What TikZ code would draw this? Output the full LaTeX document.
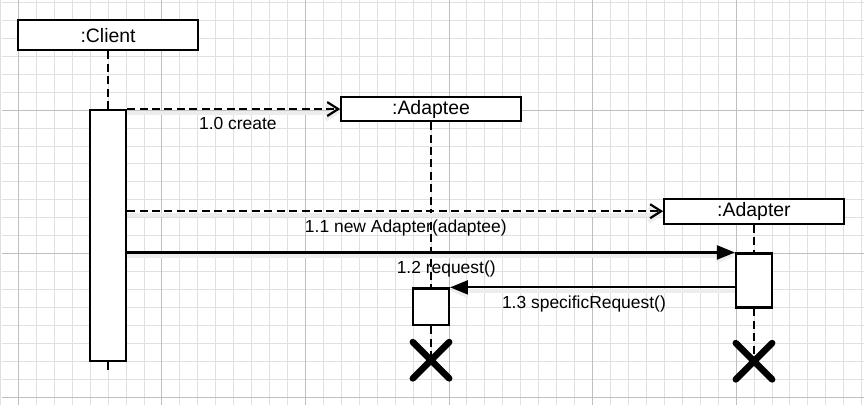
\documentclass[tikz,border=0pt]{standalone}
\usepackage{fontspec}
\setmainfont{Liberation Sans}
\usetikzlibrary{arrows.meta}
\usetikzlibrary{shapes.misc}

\begin{document}
\begin{tikzpicture}[x=1pt, y=-1pt, line width=2.2pt,
  obj/.style = {draw, fill=white, minimum width=180pt, minimum height=25pt, inner sep=0pt, font=\fontsize{19.5}{22}\selectfont},
  act/.style = {draw, fill=white, minimum width=36pt, inner sep=0pt},
  life/.style = {dash pattern=on 8pt off 4.5pt},
  msg/.style = {font=\fontsize{17.5}{20}\selectfont, text height=12.5pt, text depth=4pt, below=4pt},
  kill/.style = {cross out, draw, line width=6.5pt, line cap=round, minimum size=30pt, inner sep=0pt},
  shade/.style = {preaction={draw=black!7, line width=4pt, transform canvas={yshift=-3.5pt}}}]
            % paper grid
            \fill[white] (0,0) rectangle (864,406);
            \foreach \x in {-2,16,...,862} \draw[black!12, line width=0.8pt] (\x,0) -- (\x,406);
            \foreach \y in {2,20,...,398} \draw[black!12, line width=0.8pt] (0,\y) -- (864,\y);
            \foreach \x in {16,160,...,736} \draw[black!25, line width=0.8pt] (\x,0) -- (\x,406);
            \foreach \y in {110,254,398} \draw[black!25, line width=0.8pt] (0,\y) -- (864,\y);
            \useasboundingbox (0,0) rectangle (864,406);

            \node[obj, minimum height=30pt] (client) at (106,35) {:Client};
            \node[obj, minimum height=24pt] (adaptee) at (430,109) {:Adaptee};
            \node[obj] (adapter) at (754,211.5) {:Adapter};
            \node[act, minimum height=252pt] (clientact) at (106,236) {};
            \node[act, minimum height=54pt] (adapteract) at (754,281) {};
            \node[act, minimum height=37pt] (adapteeact) at (430,307.5) {};
            \node[kill] (adapteex) at (430,361) {};
            \node[kill] (adapterx) at (754,362) {};
            \coordinate (clientend) at (106,375);

            % lifelines
            \draw[life] (client) -- (clientact);
            \draw[life] (clientact) -- (clientend);
            \draw[life] (adaptee) -- (adapteeact);
            \draw[life] (adapteeact) -- (adapteex.center);
            \draw[life] (adapter) -- (adapteract);
            \draw[life] (adapteract) -- (adapterx.center);

            % messages
            \draw[life, shade, -{Straight Barb[length=11pt, width=14pt]}] (clientact.north east |- adaptee.west) -- node[msg, pos=0.52] {1.0 create} (adaptee.west);
            \draw[life, shade, -{Straight Barb[length=11pt, width=14pt]}] (clientact.east |- adapter.west) -- node[msg, pos=0.52] {1.1 new Adapter(adaptee)} (adapter.west);
            \draw[shade, -{Triangle[length=18pt, width=14pt]}] (clientact.east |- adapteract.north) -- node[msg, pos=0.525] {1.2 request()} (adapteract.north west);
            \draw[shade, -{Triangle[length=18pt, width=14pt]}] (adapteract.west |- adapteeact.north) -- node[msg, pos=0.53] {1.3 specificRequest()} (adapteeact.north east);
        \end{tikzpicture}
\end{document}
